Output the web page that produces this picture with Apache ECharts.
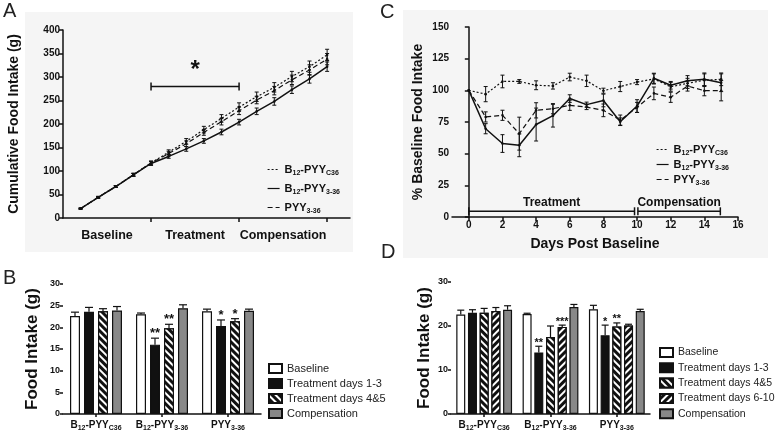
<!DOCTYPE html>
<html>
<head>
<meta charset="utf-8">
<script src="https://cdn.jsdelivr.net/npm/echarts@6/dist/echarts.min.js"></script>
<style>
html, body { margin: 0; padding: 0; background: #fff; }
#chart { width: 777px; height: 433px; }
</style>
</head>
<body>
<div id="chart"></div>
<script>
// Panel A - cumulative intake
const daysA = [1, 2, 3, 4, 5, 6, 7, 8, 9, 10, 11, 12, 13, 14, 15];
const aC36 = [20, 44, 67, 92, 117, 140, 163, 188, 212, 236, 258, 278, 301, 322, 347];
const aC36Err = [1, 2, 2, 3, 4, 5, 6, 7, 8, 9, 10, 10, 11, 12, 12];
const aB336 = [20, 44, 67, 92, 116, 131, 147, 164, 183, 204, 227, 248, 273, 296, 322];
const aB336Err = [1, 1, 2, 3, 4, 4, 5, 5, 6, 6, 7, 8, 8, 9, 10];
const aPYY = [20, 44, 67, 92, 117, 137, 158, 182, 205, 228, 251, 271, 294, 315, 338];
const aPYYErr = [1, 2, 2, 3, 4, 5, 6, 6, 7, 8, 8, 9, 10, 11, 12];
const aTicks = [5, 10, 15];
const aPhaseAt = [2.5, 7.5, 12.5];
const aPhases = ['Baseline', 'Treatment', 'Compensation'];
const aSigBar = [[5, 10, 280]];

// Panel C - % baseline intake
const daysC = [0, 1, 2, 3, 4, 5, 6, 7, 8, 9, 10, 11, 12, 13, 14, 15];
const cC36 = [100, 97, 107, 107, 104, 103.5, 110.5, 107.5, 99.7, 103, 106.5, 109, 102.8, 105.5, 108, 108.7];
const cC36Err = [0, 6, 5, 1.5, 3.5, 2.5, 3, 4.5, 2, 4, 2, 4, 3.5, 4, 5, 5];
const cB336 = [100, 69.7, 58, 56.6, 73, 80, 93.5, 88.7, 92, 75.2, 87.6, 109.5, 104, 107.6, 108.7, 106];
const cB336Err = [0, 4, 7, 9, 13, 9, 3, 2, 5, 3, 5, 4, 3, 4, 5, 7];
const cPYY = [100, 79, 80.3, 65.8, 84.2, 85.5, 88.2, 86.8, 84.2, 76.5, 86.5, 97.6, 94.5, 103.4, 99.7, 99.7];
const cPYYErr = [0, 4, 4, 13, 6, 4, 4, 2, 5, 4, 4, 5, 4, 4, 4, 8];
const cTicks = [0, 2, 4, 6, 8, 10, 12, 14, 16];
const cPeriods = [[0, 9.85, 4.5], [10.05, 14.95, 4.5]];
const cPeriodNames = ['Treatment', 'Compensation'];

// Panels B and D - bars
const barCats = ['B12-PYYC36', 'B12-PYY3-36', 'PYY3-36'];
const bBase = [22.6, 23.0, 23.7];
const bBaseErr = [0.9, 0.3, 0.5];
const bT13 = [23.6, 16.0, 20.3];
const bT13Err = [1.0, 1.5, 1.4];
const bT13Stars = ['', '**', '*'];
const bT45 = [23.7, 19.8, 21.4];
const bT45Err = [0.6, 0.9, 0.6];
const bT45Stars = ['', '**', '*'];
const bComp = [23.9, 24.4, 23.8];
const bCompErr = [0.9, 0.8, 0.4];

const dBase = [22.6, 22.7, 23.8];
const dBaseErr = [1.0, 0.2, 0.9];
const dT13 = [23.0, 14.0, 17.9];
const dT13Err = [0.7, 1.4, 2.3];
const dT13Stars = ['', '**', '*'];
const dT45 = [23.0, 17.5, 19.9];
const dT45Err = [1.0, 2.5, 0.8];
const dT45Stars = ['', '', '**'];
const dT610 = [23.4, 19.8, 20.1];
const dT610Err = [0.8, 0.4, 0.3];
const dT610Stars = ['', '***', ''];
const dComp = [23.7, 24.3, 23.4];
const dCompErr = [0.9, 0.6, 0.4];

const FONT = 'Liberation Sans, Arial, sans-serif';
const INK = '#111';

// rich text labels with subscripts
const richNames = {
    'B12-PYYC36': '{n|B}{s|12}{n|-PYY}{s|C36}',
    'B12-PYY3-36': '{n|B}{s|12}{n|-PYY}{s|3-36}',
    'PYY3-36': '{n|PYY}{s|3-36}'
};
const legendNames = {
    aC36: richNames['B12-PYYC36'], aB336: richNames['B12-PYY3-36'], aPYY: richNames['PYY3-36'],
    cC36: richNames['B12-PYYC36'], cB336: richNames['B12-PYY3-36'], cPYY: richNames['PYY3-36'],
    bBase: 'Baseline', bT13: 'Treatment days 1-3', bT45: 'Treatment days 4&5', bComp: 'Compensation',
    dBase: 'Baseline', dT13: 'Treatment days 1-3', dT45: 'Treatment days 4&5', dT610: 'Treatment days 6-10', dComp: 'Compensation'
};
function subRich(big, small) {
    return {
        n: { fontFamily: FONT, fontWeight: 'bold', fontSize: big, color: INK, lineHeight: big + 4 },
        s: { fontFamily: FONT, fontWeight: 'bold', fontSize: small, color: INK, lineHeight: small + 1, verticalAlign: 'bottom' }
    };
}

function lineSeries(name, gi, xs, ys, dash, width) {
    return {
        name: name, type: 'line', xAxisIndex: gi, yAxisIndex: gi,
        data: xs.map((x, i) => [x, ys[i]]),
        symbol: 'none', silent: true, z: 3,
        itemStyle: { color: INK },
        lineStyle: { color: INK, width: width, type: dash }
    };
}

function errSeries(gi, xs, ys, es) {
    return {
        type: 'custom', xAxisIndex: gi, yAxisIndex: gi, silent: true, clip: false, z: 4,
        data: xs.map((x, i) => [x, ys[i], es[i]]),
        encode: { x: 0, y: 1 },
        renderItem: function (params, api) {
            const x = api.value(0), y = api.value(1), e = api.value(2);
            const c = api.coord([x, y]);
            const children = [{ type: 'circle', shape: { cx: c[0], cy: c[1], r: 1.3 }, style: { fill: INK } }];
            if (e > 0) {
                const t = api.coord([x, y + e]), b = api.coord([x, y - e]);
                const st = { stroke: INK, lineWidth: 1 };
                children.push({ type: 'line', shape: { x1: t[0], y1: t[1], x2: b[0], y2: b[1] }, style: st });
                children.push({ type: 'line', shape: { x1: t[0] - 2, y1: t[1], x2: t[0] + 2, y2: t[1] }, style: st });
                children.push({ type: 'line', shape: { x1: b[0] - 2, y1: b[1], x2: b[0] + 2, y2: b[1] }, style: st });
            }
            return { type: 'group', children: children };
        }
    };
}

function barSeries(name, gi, vals, color, width, gap, decal) {
    const s = {
        name: name, type: 'bar', xAxisIndex: gi, yAxisIndex: gi, data: vals,
        barWidth: width, barGap: gap, silent: true,
        itemStyle: { color: color, borderColor: INK, borderWidth: 1.2 }
    };
    if (decal) s.itemStyle.decal = decal;
    return s;
}

function barErrSeries(gi, vals, errs, stars, idx, count, pitch, capW, starSize) {
    return {
        type: 'custom', xAxisIndex: gi, yAxisIndex: gi, silent: true, clip: false, z: 5,
        data: vals.map((v, i) => [i, v, errs[i]]),
        encode: { x: 0, y: 1 },
        renderItem: function (params, api) {
            const ci = api.value(0), v = api.value(1), e = api.value(2);
            const off = (idx - (count - 1) / 2) * pitch;
            const b = api.coord([ci, v]), t = api.coord([ci, v + e]);
            const x = b[0] + off;
            const st = { stroke: INK, lineWidth: 1.2 };
            const children = [
                { type: 'line', shape: { x1: x, y1: b[1], x2: x, y2: t[1] }, style: st },
                { type: 'line', shape: { x1: x - capW, y1: t[1], x2: x + capW, y2: t[1] }, style: st }
            ];
            const star = stars ? stars[params.dataIndex] : '';
            if (star) {
                children.push({
                    type: 'text',
                    style: { text: star, x: x, y: t[1] + 2, align: 'center', verticalAlign: 'bottom',
                             font: 'bold ' + starSize + 'px ' + FONT, fill: INK }
                });
            }
            return { type: 'group', children: children };
        }
    };
}

const hatchBack = { symbol: 'rect', symbolSize: 1, color: '#fff', dashArrayX: [1, 0], dashArrayY: [2, 3], rotation: Math.PI / 4 };
const hatchFwd = { symbol: 'rect', symbolSize: 1, color: '#fff', dashArrayX: [1, 0], dashArrayY: [2, 3], rotation: -Math.PI / 4 };

function axisCommon() {
    return {
        axisLine: { lineStyle: { color: INK, width: 1.5 } },
        axisTick: { show: true, length: 4, lineStyle: { color: INK, width: 1.5 } },
        splitLine: { show: false },
        axisLabel: { fontFamily: FONT, fontWeight: 'bold', fontSize: 10, color: INK, margin: 3 }
    };
}

const chart = echarts.init(document.getElementById('chart'), null, { renderer: 'canvas' });

const xA = Object.assign(axisCommon(), { type: 'value', gridIndex: 0, min: 0, max: 16.3 });
xA.axisTick = Object.assign(xA.axisTick, { customValues: aTicks });
xA.axisLabel = Object.assign(xA.axisLabel, {
    customValues: aPhaseAt, fontSize: 12.5, margin: 11,
    formatter: v => aPhases[aPhaseAt.indexOf(v)] || ''
});
const yA = Object.assign(axisCommon(), {
    type: 'value', gridIndex: 0, min: 0, max: 400, interval: 50,
    name: 'Cumulative Food Intake (g)', nameLocation: 'middle', nameGap: 42,
    nameTextStyle: { fontFamily: FONT, fontWeight: 'bold', fontSize: 14, color: INK }
});

const xC = Object.assign(axisCommon(), {
    type: 'value', gridIndex: 1, min: -1, max: 16,
    name: 'Days Post Baseline', nameLocation: 'middle', nameGap: 20,
    nameTextStyle: { fontFamily: FONT, fontWeight: 'bold', fontSize: 14, color: INK }
});
xC.axisTick = Object.assign(xC.axisTick, { customValues: cTicks });
xC.axisLabel = Object.assign(xC.axisLabel, { customValues: cTicks });
const yC = Object.assign(axisCommon(), {
    type: 'value', gridIndex: 1, min: 0, max: 150, interval: 25,
    name: '% Baseline Food Intake', nameLocation: 'middle', nameGap: 27,
    nameTextStyle: { fontFamily: FONT, fontWeight: 'bold', fontSize: 14, color: INK }
});

function barX(gi) {
    const ax = Object.assign(axisCommon(), { type: 'category', gridIndex: gi, data: barCats });
    ax.axisTick = Object.assign(ax.axisTick, { alignWithLabel: true, length: 3 });
    ax.axisLabel = Object.assign(ax.axisLabel, {
        margin: 4, interval: 0, hideOverlap: false, formatter: v => richNames[v], rich: subRich(10, 7)
    });
    return ax;
}
function barY(gi, interval, gap) {
    const ax = Object.assign(axisCommon(), {
        type: 'value', gridIndex: gi, min: 0, max: 30, interval: interval,
        name: 'Food Intake (g)', nameLocation: 'middle', nameGap: gap,
        nameTextStyle: { fontFamily: FONT, fontWeight: 'bold', fontSize: 17, color: INK }
    });
    ax.axisLabel.fontSize = 9;
    ax.axisTick.length = 3;
    return ax;
}

const series = [
    lineSeries('aC36', 0, daysA, aC36, [2, 2], 1.2),
    lineSeries('aB336', 0, daysA, aB336, 'solid', 1.5),
    lineSeries('aPYY', 0, daysA, aPYY, [5, 3], 1.2),
    errSeries(0, daysA, aC36, aC36Err),
    errSeries(0, daysA, aB336, aB336Err),
    errSeries(0, daysA, aPYY, aPYYErr),
    {
        type: 'custom', xAxisIndex: 0, yAxisIndex: 0, silent: true, clip: false,
        data: aSigBar, encode: { x: [0, 1], y: 2 },
        renderItem: function (params, api) {
            const p1 = api.coord([api.value(0), api.value(2)]);
            const p2 = api.coord([api.value(1), api.value(2)]);
            const st = { stroke: INK, lineWidth: 1.5 };
            return {
                type: 'group', children: [
                    { type: 'line', shape: { x1: p1[0], y1: p1[1], x2: p2[0], y2: p2[1] }, style: st },
                    { type: 'line', shape: { x1: p1[0], y1: p1[1] - 4, x2: p1[0], y2: p1[1] + 4 }, style: st },
                    { type: 'line', shape: { x1: p2[0], y1: p2[1] - 4, x2: p2[0], y2: p2[1] + 4 }, style: st },
                    { type: 'text', style: { text: '*', x: (p1[0] + p2[0]) / 2, y: p1[1] - 4, align: 'center',
                      verticalAlign: 'bottom', font: 'bold 24px ' + FONT, fill: INK } }
                ]
            };
        }
    },

    lineSeries('cC36', 1, daysC, cC36, [2, 2], 1.2),
    lineSeries('cB336', 1, daysC, cB336, 'solid', 1.5),
    lineSeries('cPYY', 1, daysC, cPYY, [5, 3], 1.2),
    errSeries(1, daysC, cC36, cC36Err),
    errSeries(1, daysC, cB336, cB336Err),
    errSeries(1, daysC, cPYY, cPYYErr),
    {
        type: 'custom', xAxisIndex: 1, yAxisIndex: 1, silent: true, clip: false,
        data: cPeriods, encode: { x: [0, 1], y: 2 },
        renderItem: function (params, api) {
            const p1 = api.coord([api.value(0), api.value(2)]);
            const p2 = api.coord([api.value(1), api.value(2)]);
            const st = { stroke: INK, lineWidth: 1.5 };
            return {
                type: 'group', children: [
                    { type: 'line', shape: { x1: p1[0], y1: p1[1], x2: p2[0], y2: p2[1] }, style: st },
                    { type: 'line', shape: { x1: p1[0], y1: p1[1] - 4, x2: p1[0], y2: p1[1] + 4 }, style: st },
                    { type: 'line', shape: { x1: p2[0], y1: p2[1] - 4, x2: p2[0], y2: p2[1] + 4 }, style: st },
                    { type: 'text', style: { text: cPeriodNames[params.dataIndex], x: (p1[0] + p2[0]) / 2, y: p1[1] - 3,
                      align: 'center', verticalAlign: 'bottom', font: 'bold 12px ' + FONT, fill: INK } }
                ]
            };
        }
    },

    barSeries('bBase', 2, bBase, '#fff', 10, '40%'),
    barSeries('bT13', 2, bT13, '#111', 10, '40%'),
    barSeries('bT45', 2, bT45, '#111', 10, '40%', hatchBack),
    barSeries('bComp', 2, bComp, '#888', 10, '40%'),
    barErrSeries(2, bBase, bBaseErr, null, 0, 4, 14, 4, 13),
    barErrSeries(2, bT13, bT13Err, bT13Stars, 1, 4, 14, 4, 13),
    barErrSeries(2, bT45, bT45Err, bT45Stars, 2, 4, 14, 4, 13),
    barErrSeries(2, bComp, bCompErr, null, 3, 4, 14, 4, 13),

    barSeries('dBase', 3, dBase, '#fff', 9, '30%'),
    barSeries('dT13', 3, dT13, '#111', 9, '30%'),
    barSeries('dT45', 3, dT45, '#111', 9, '30%', hatchBack),
    barSeries('dT610', 3, dT610, '#111', 9, '30%', hatchFwd),
    barSeries('dComp', 3, dComp, '#888', 9, '30%'),
    barErrSeries(3, dBase, dBaseErr, null, 0, 5, 11.7, 3.5, 11),
    barErrSeries(3, dT13, dT13Err, dT13Stars, 1, 5, 11.7, 3.5, 11),
    barErrSeries(3, dT45, dT45Err, dT45Stars, 2, 5, 11.7, 3.5, 11),
    barErrSeries(3, dT610, dT610Err, dT610Stars, 3, 5, 11.7, 3.5, 11),
    barErrSeries(3, dComp, dCompErr, null, 4, 5, 11.7, 3.5, 11)
];

function lineLegend(names, left, top, gap) {
    return {
        data: names, orient: 'vertical', left: left, top: top, itemWidth: 12, itemHeight: 8, itemGap: gap,
        selectedMode: false, formatter: n => legendNames[n],
        itemStyle: { opacity: 0 },
        lineStyle: { color: INK, opacity: 1, width: 1.2 },
        textStyle: { rich: subRich(11, 7), padding: [0, 0, 0, 0] }
    };
}
function barLegend(names, left, top, gap, size) {
    return {
        data: names, orient: 'vertical', left: left, top: top, itemWidth: 13, itemHeight: 9, itemGap: gap,
        selectedMode: false, icon: 'rect', formatter: n => legendNames[n],
        textStyle: { fontFamily: FONT, fontSize: size, color: '#222', lineHeight: 11 }
    };
}

const letterStyle = { fontFamily: FONT, fontSize: 20, fill: '#222' };

chart.setOption({
    animation: false,
    backgroundColor: '#fff',
    graphic: [
        { type: 'rect', shape: { x: 25, y: 12, width: 328, height: 240 }, style: { fill: '#f5f5f5' }, z: -10, silent: true },
        { type: 'rect', shape: { x: 403, y: 10, width: 365, height: 248 }, style: { fill: '#f5f5f5' }, z: -10, silent: true },
        { type: 'text', left: 3, top: 1, style: Object.assign({ text: 'A' }, letterStyle) },
        { type: 'text', left: 3, top: 268, style: Object.assign({ text: 'B' }, letterStyle) },
        { type: 'text', left: 380, top: 2, style: Object.assign({ text: 'C' }, letterStyle) },
        { type: 'text', left: 381, top: 242, style: Object.assign({ text: 'D' }, letterStyle) }
    ],
    grid: [
        { left: 63, top: 30, width: 287, height: 188 },
        { left: 452, top: 27, width: 286, height: 190 },
        { left: 63, top: 284, width: 198, height: 130 },
        { left: 451, top: 282, width: 199, height: 132 }
    ],
    xAxis: [xA, xC, barX(2), barX(3)],
    yAxis: [yA, yC, barY(2, 5, 22), barY(3, 10, 18)],
    legend: [
        lineLegend(['aC36', 'aB336', 'aPYY'], 262, 159, 6),
        lineLegend(['cC36', 'cB336', 'cPYY'], 651, 139, 2),
        barLegend(['bBase', 'bT13', 'bT45', 'bComp'], 263, 358, 4, 11),
        barLegend(['dBase', 'dT13', 'dT45', 'dT610', 'dComp'], 654, 342, 4.3, 10.5)
    ],
    series: series
});
</script>
</body>
</html>
